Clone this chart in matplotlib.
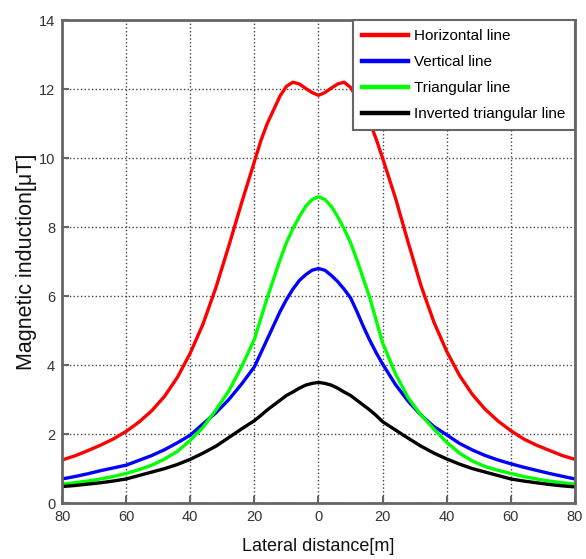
import matplotlib.pyplot as plt

plt.rcParams['font.family'] = ['Liberation Sans', 'DejaVu Sans']

# lateral positions [m], finer spacing across the central peak
lateral_m = [-80, -76, -72, -68, -64, -60, -56, -52, -48, -44, -40, -36, -32, -28, -24,
             -20, -18, -16, -14, -12, -10, -8, -6, -4, -2, 0, 2, 4, 6, 8, 10, 12, 14, 16, 18, 20,
             24, 28, 32, 36, 40, 44, 48, 52, 56, 60, 64, 68, 72, 76, 80]

horizontal_uT = [1.25, 1.37, 1.52, 1.68, 1.86, 2.08, 2.35, 2.68, 3.1, 3.65, 4.35, 5.2, 6.25, 7.45, 8.7,
                 9.9, 10.5, 11.0, 11.4, 11.8, 12.08, 12.2, 12.15, 12.02, 11.9, 11.82, 11.9, 12.03, 12.15,
                 12.2, 12.05, 11.75, 11.4, 11.05, 10.55, 10.0,
                 8.85, 7.55, 6.3, 5.25, 4.4, 3.7, 3.15, 2.72, 2.38, 2.1, 1.86, 1.68, 1.53, 1.38, 1.27]

vertical_uT = [0.7, 0.77, 0.85, 0.94, 1.02, 1.1, 1.24, 1.38, 1.55, 1.75, 1.97, 2.3, 2.62, 3.0, 3.45,
               3.95, 4.35, 4.75, 5.15, 5.55, 5.9, 6.2, 6.45, 6.62, 6.75, 6.8, 6.75, 6.6, 6.42, 6.2,
               5.95, 5.55, 5.12, 4.72, 4.36, 4.03,
               3.44, 2.95, 2.55, 2.22, 1.98, 1.73, 1.54, 1.38, 1.25, 1.14, 1.04, 0.95, 0.86, 0.78, 0.7]

triangular_uT = [0.55, 0.59, 0.64, 0.7, 0.77, 0.86, 0.97, 1.1, 1.28, 1.5, 1.82, 2.2, 2.7, 3.25, 3.95,
                 4.75, 5.35, 5.95, 6.5, 7.05, 7.55, 7.95, 8.3, 8.6, 8.8, 8.88, 8.8, 8.6, 8.3, 7.95,
                 7.55, 7.05, 6.5, 5.95, 5.3, 4.65,
                 3.75, 3.05, 2.55, 2.15, 1.76, 1.45, 1.22, 1.06, 0.95, 0.86, 0.77, 0.7, 0.64, 0.59, 0.55]

inverted_uT = [0.48, 0.51, 0.55, 0.59, 0.64, 0.7, 0.8, 0.9, 1.0, 1.12, 1.27, 1.45, 1.65, 1.9, 2.15,
               2.39, 2.54, 2.7, 2.84, 2.98, 3.12, 3.22, 3.33, 3.42, 3.47, 3.5, 3.47, 3.42, 3.33, 3.22,
               3.12, 2.98, 2.84, 2.7, 2.54, 2.36,
               2.12, 1.88, 1.65, 1.45, 1.28, 1.13, 1.0, 0.9, 0.8, 0.7, 0.64, 0.59, 0.54, 0.5, 0.47]

x_ticks = [-80, -60, -40, -20, 0, 20, 40, 60, 80]
x_ticklabels = ['80', '60', '40', '20', '0', '20', '40', '60', '80']
y_ticks = [0, 2, 4, 6, 8, 10, 12, 14]

fig = plt.figure(figsize=(5.86, 5.59), dpi=100)
ax = fig.add_axes([0.106, 0.1, 0.875, 0.864])

lw = 2.4
ax.plot(lateral_m, horizontal_uT, color='#ff0000', lw=lw, label='Horizontal line')
ax.plot(lateral_m, vertical_uT, color='#0000ff', lw=lw, label='Vertical line')
ax.plot(lateral_m, triangular_uT, color='#00ff00', lw=lw, label='Triangular line')
ax.plot(lateral_m, inverted_uT, color='#000000', lw=lw, label='Inverted triangular line')

ax.set_xlim(-80, 80)
ax.set_ylim(0, 14)
ax.set_xticks(x_ticks)
ax.set_xticklabels(x_ticklabels)
ax.set_yticks(y_ticks)
ax.grid(True, linestyle=':', color='#444444', linewidth=1.0)

for s in ax.spines.values():
    s.set_color('#666666')
    s.set_linewidth(2)
ax.tick_params(direction='in', length=5, width=1.5, color='#666666',
               labelsize=10.5, labelcolor='#333333', pad=5)

ax.set_xlabel('Lateral distance[m]', fontsize=13, color='#111111', labelpad=10)
ax.set_ylabel('Magnetic induction[\u03bcT]', fontsize=15.5, color='#111111', labelpad=1)

leg = ax.legend(loc='upper right', fontsize=11, fancybox=False, borderaxespad=0,
                handlelength=3.0, labelspacing=0.78, borderpad=0.6, handletextpad=0.4)
leg.get_frame().set_edgecolor('#666666')
leg.get_frame().set_linewidth(1.5)
leg.get_frame().set_alpha(1)
for h in leg.get_lines():
    h.set_linewidth(3.2)

fig.savefig('out.png', dpi=100)
